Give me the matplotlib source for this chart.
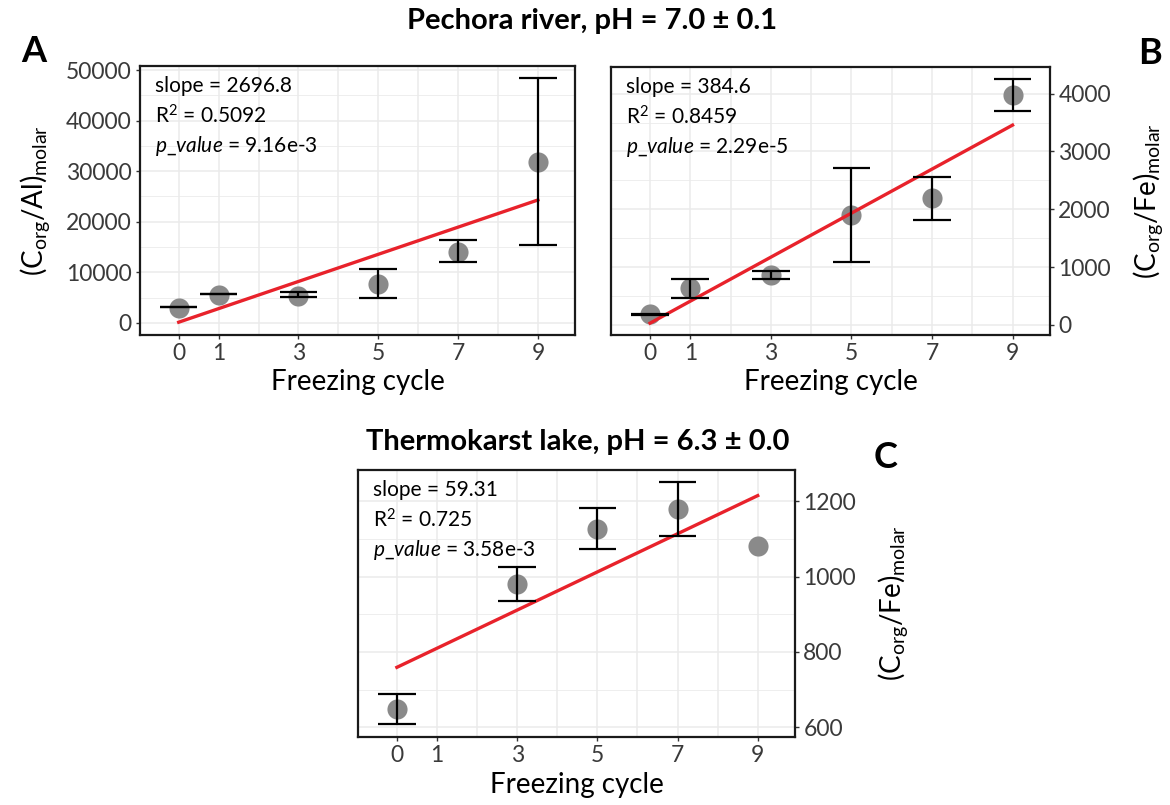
import matplotlib
matplotlib.use("Agg")
import matplotlib.pyplot as plt
import numpy as np

plt.rcParams['font.family'] = ['Lato', 'DejaVu Sans']
plt.rcParams['mathtext.fontset'] = 'custom'
plt.rcParams['mathtext.rm'] = 'Lato'
plt.rcParams['mathtext.it'] = 'Lato:italic'
plt.rcParams['mathtext.bf'] = 'Lato:bold'

# panel A: Pechora river, Corg/Al
a_cycle = [0, 1, 3, 5, 7, 9]
a_mean = [2950, 5600, 5250, 7700, 14100, 31900]
a_low = [3100, 5650, 5050, 4950, 12000, 15400]
a_high = [3200, 5750, 6100, 10650, 16350, 48350]
a_fit = [130, 24300]  # fitted line value at cycle 0 and 9

# panel B: Pechora river, Corg/Fe
b_cycle = [0, 1, 3, 5, 7, 9]
b_mean = [190, 630, 860, 1900, 2190, 3970]
b_low = [170, 460, 790, 1080, 1810, 3700]
b_high = [195, 790, 930, 2720, 2560, 4250]
b_fit = [30, 3455]

# panel C: Thermokarst lake, Corg/Fe
c_cycle = [0, 3, 5, 7, 9]
c_mean = [648, 981, 1127, 1179, 1081]
c_low = [609, 935, 1074, 1107, np.nan]
c_high = [688, 1026, 1181, 1250, np.nan]
c_fit = [759, 1215]

xticks = [0, 1, 3, 5, 7, 9]
stats_a = ["slope = 2696.8", "R$^2$ = 0.5092", r"$\it{p\_value}$ = 9.16e-3"]
stats_b = ["slope = 384.6", "R$^2$ = 0.8459", r"$\it{p\_value}$ = 2.29e-5"]
stats_c = ["slope = 59.31", "R$^2$ = 0.725", r"$\it{p\_value}$ = 3.58e-3"]

W, H = 1170, 805


def box(l, t, r, b):
    return [l / W, 1 - b / H, (r - l) / W, (b - t) / H]


def panel(ax, x, mean, low, high, fit, ylim, major, minor, stats, ylabel, side, ylab_x, xlab_y):
    ax.set_xlim(-0.97, 9.93)
    ax.set_ylim(*ylim)
    for g in range(10):
        ax.axvline(g, color='#ebebeb', lw=1.1, zorder=0)
    for g in major:
        ax.axhline(g, color='#ebebeb', lw=1.1, zorder=0)
    for g in minor:
        ax.axhline(g, color='#ebebeb', lw=0.6, zorder=0)
    ax.plot(x, mean, 'o', color='#8a8a8a', ms=14.5, mec='none', zorder=2)
    ax.plot([0, 9], fit, color='#e8222b', lw=2.4, zorder=3)
    lo = np.array(low, dtype=float)
    hi = np.array(high, dtype=float)
    xs = np.array(x, dtype=float)
    ok = ~np.isnan(lo)
    ax.vlines(xs[ok], lo[ok], hi[ok], color='black', lw=1.6, zorder=4)
    ax.hlines(lo[ok], xs[ok] - 0.47, xs[ok] + 0.47, color='black', lw=1.6, zorder=4)
    ax.hlines(hi[ok], xs[ok] - 0.47, xs[ok] + 0.47, color='black', lw=1.6, zorder=4)

    ax.set_xticks(xticks)
    ax.set_yticks(major)
    ax.tick_params(labelsize=16.5, colors='#333333', length=3, width=1, pad=3)
    ax.tick_params(axis='both', labelcolor='#3a3a3a')
    if side == 'right':
        ax.yaxis.tick_right()
        ax.yaxis.set_label_position('right')
    ax.set_xlabel("Freezing cycle", fontsize=20)
    ax.set_ylabel(ylabel, fontsize=20)
    ax.xaxis.label.set_va('center')
    ax.yaxis.label.set_va('center')
    ax.yaxis.label.set_ha('center')
    ax.xaxis.set_label_coords(0.5, xlab_y)
    ax.yaxis.set_label_coords(ylab_x, 0.5)
    for s in ax.spines.values():
        s.set_linewidth(1.6)
        s.set_color('#1a1a1a')
    for i, s in enumerate(stats):
        ax.text(0.035, 0.925 - i * 0.112, s, transform=ax.transAxes, fontsize=15,
                va='center', ha='left', color='black')


fig = plt.figure(figsize=(W / 100, H / 100), dpi=100)

ax_a = fig.add_axes(box(140, 66, 575, 335))
panel(ax_a, a_cycle, a_mean, a_low, a_high, a_fit, (-2400, 50800),
      [0, 10000, 20000, 30000, 40000, 50000],
      [5000, 15000, 25000, 35000, 45000],
      stats_a, r"(C$_{\mathregular{org}}$/Al)$_{\mathregular{molar}}$", 'left', -0.241, -0.175)

ax_b = fig.add_axes(box(611, 67, 1050, 335))
panel(ax_b, b_cycle, b_mean, b_low, b_high, b_fit, (-175, 4460),
      [0, 1000, 2000, 3000, 4000],
      [500, 1500, 2500, 3500],
      stats_b, r"(C$_{\mathregular{org}}$/Fe)$_{\mathregular{molar}}$", 'right', 1.223, -0.175)

ax_c = fig.add_axes(box(358, 470, 795, 737))
panel(ax_c, c_cycle, c_mean, c_low, c_high, c_fit, (574, 1283),
      [600, 800, 1000, 1200],
      [700, 900, 1100],
      stats_c, r"(C$_{\mathregular{org}}$/Fe)$_{\mathregular{molar}}$", 'right', 1.224, -0.179)

fig.text(592 / W, 1 - 21 / H, "Pechora river, pH = 7.0 ± 0.1", fontsize=21,
         fontweight='bold', ha='center', va='center',
         family=['Liberation Sans Narrow', 'Lato', 'DejaVu Sans'])
fig.text(578 / W, 1 - 442 / H, "Thermokarst lake, pH = 6.3 ± 0.0", fontsize=21,
         fontweight='bold', ha='center', va='center')
fig.text(34 / W, 1 - 51 / H, "A", fontsize=26, fontweight='bold', ha='center', va='center')
fig.text(1150 / W, 1 - 53 / H, "B", fontsize=26, fontweight='bold', ha='center', va='center')
fig.text(886 / W, 1 - 457 / H, "C", fontsize=26, fontweight='bold', ha='center', va='center')

fig.savefig("out.png", dpi=100)
